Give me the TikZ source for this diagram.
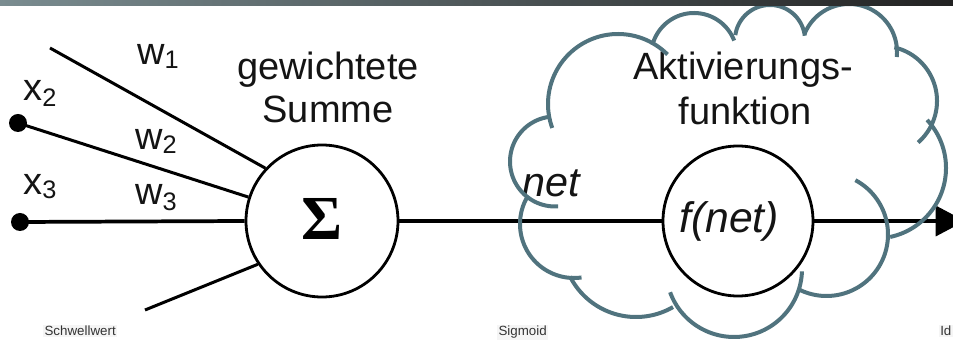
\documentclass[tikz,border=0pt]{standalone}
\usepackage{fontspec}
\setmainfont{Liberation Sans}
\newfontfamily\sigmafont{Liberation Serif}
\usetikzlibrary{arrows.meta}
\definecolor{cloudc}{HTML}{50737E}
\definecolor{barl}{HTML}{7A8C90}
\definecolor{barr}{HTML}{222222}
\newcommand{\sbs}[2][-3pt]{\raisebox{#1}{\fontsize{19}{19}\selectfont #2}}
\newcommand{\cloudpiece}[5]{\draw[cloudarc] plot[domain=#4:#5, samples=60, variable=\t] ({#1+#3*cos(\t)},{#2+#3*sin(\t)});}
\begin{document}
\begin{tikzpicture}[x=0.75pt,y=-0.75pt,
  lbl/.style={inner sep=0pt, anchor=base west, font=\fontsize{28.5}{34}\selectfont, text=black!92},
  ctr/.style={inner sep=0pt, anchor=base, font=\fontsize{28.5}{34}\selectfont, text=black!92},
  wire/.style={line width=2.25pt, black},
  neuron/.style={circle, draw=black, line width=2.1pt, inner sep=0pt},
  dotn/.style={circle, fill=black, minimum size=13.5pt, inner sep=0pt},
  cloudarc/.style={draw=cloudc, line width=3pt, line cap=butt},
  small/.style={inner sep=1pt, font=\fontsize{10}{12}\selectfont, text=black!80, fill=black!4}]
\useasboundingbox (0,0) rectangle (953,341);
\clip (0,0) rectangle (953,341);

% neurons
\node[neuron, minimum size=114pt] (sum) at (322,221) {};
\node[neuron, minimum size=112.5pt] (fn) at (738,221) {};
\node[inner sep=0pt, anchor=base, font=\sigmafont\bfseries\fontsize{47}{50}\selectfont] (sig) at (322,240) {Σ};

% inputs
\node[dotn] (x2) at (18,123) {};
\node[dotn] (x3) at (20,222) {};
\coordinate (in1) at (50,48);
\coordinate (in4) at (145,310);
\draw[wire] (in1) -- (sum.137);
\draw[wire] (x2.center) -- (sum.162);
\draw[wire, line width=2.8pt] (x3.center) -- (sum.west);
\draw[wire] (in4) -- (sum.214);
\draw[wire, line width=2.8pt] (sum.east) -- (fn.west);
\coordinate (out) at (965,221);
\draw[wire, line width=2.8pt, -{Triangle[length=22pt,width=22.5pt]}] (fn.east) -- (out);

% labels
\node[lbl] (w1) at (137,65) {w\sbs{1}};
\node[lbl] (lx2) at (23,101) {x\sbs[-4pt]{2}};
\node[lbl] (w2) at (135,150) {w\sbs{2}};
\node[lbl] (lx3) at (23,195) {x\sbs{3}};
\node[lbl] (w3) at (135,205) {w\sbs[-4pt]{3}};
\node[ctr] (g1) at (328,80) {gewichtete};
\node[ctr] (g2) at (328,123) {Summe};
\node[ctr] (a1) at (743,80) {Aktivierungs-};
\node[ctr] (a2) at (745,125) {funktion};
\node[lbl, font=\itshape\fontsize{31}{36}\selectfont] (net) at (522,197) {net};
\node[ctr, font=\itshape\fontsize{32}{36}\selectfont] (fnet) at (729,233) {f(net)};

\node[small, anchor=base west] (s1) at (43,336) {Schwellwert};
\node[small, anchor=base west] (s2) at (497,336) {Sigmoid};
\node[small, anchor=base east] (s3) at (953,336) {Id};

% cloud (centre x, centre y, radius, start angle, end angle; angles clockwise in picture)
\cloudpiece{618}{104}{70}{160}{315}
\cloudpiece{694}{56}{43}{195}{339}
\cloudpiece{770}{40}{35}{188}{353}
\cloudpiece{849}{52}{48}{202}{366}
\cloudpiece{882}{101}{55}{-77}{49}
\cloudpiece{875.5}{168}{70.5}{-43}{78}
\cloudpiece{826.5}{234.5}{61.5}{-62}{116}
\cloudpiece{734}{269}{68}{2}{160}
\cloudpiece{636}{243}{74}{60}{153}
\cloudpiece{574}{224}{54}{82}{212}
\cloudpiece{555}{161.5}{45}{86}{264}

% top bar
\shade[left color=barl, right color=barr] (0,0) rectangle (953,6);
\end{tikzpicture}
\end{document}
